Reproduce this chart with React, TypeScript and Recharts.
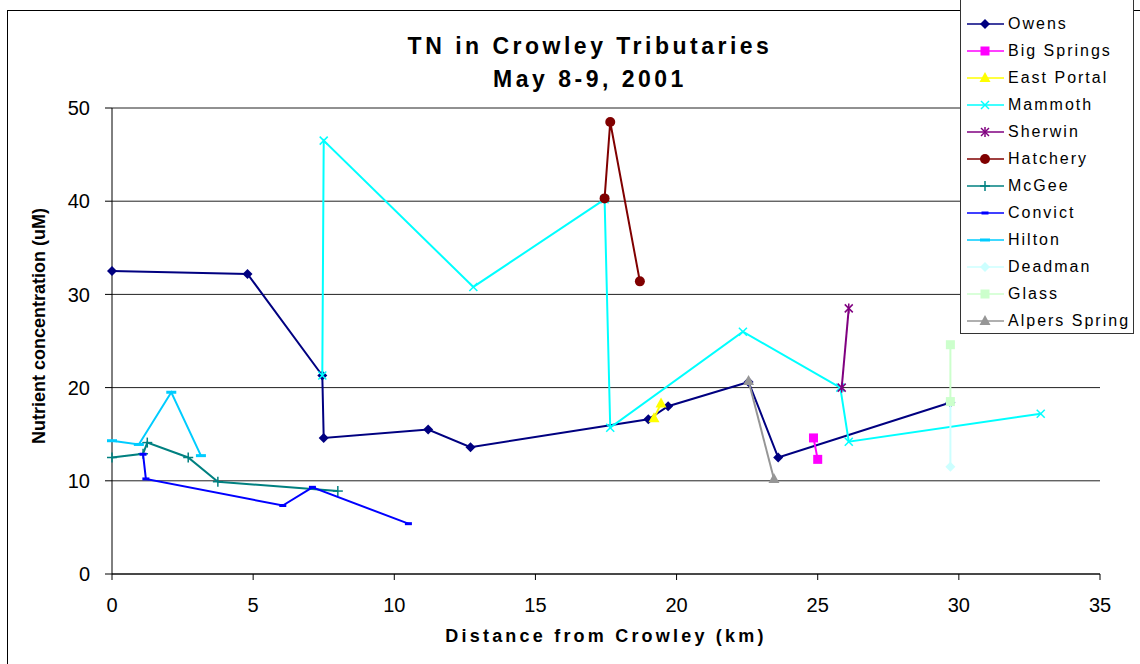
import { ScatterChart, Scatter, XAxis, YAxis, CartesianGrid } from 'recharts'

// distance (km) / TN (uM) pairs
const owens = [
    { x: 0, y: 32.5 }, { x: 4.8, y: 32.2 }, { x: 7.45, y: 21.3 }, { x: 7.5, y: 14.6 },
    { x: 11.2, y: 15.5 }, { x: 12.7, y: 13.6 }, { x: 19.0, y: 16.6 }, { x: 19.7, y: 18.0 },
    { x: 22.55, y: 20.6 }, { x: 23.6, y: 12.5 }, { x: 29.7, y: 18.4 },
]
const bigSprings = [{ x: 24.85, y: 14.6 }, { x: 25.0, y: 12.3 }]
const eastPortal = [{ x: 19.2, y: 16.7 }, { x: 19.45, y: 18.3 }]
const mammoth = [
    { x: 7.45, y: 21.3 }, { x: 7.5, y: 46.5 }, { x: 12.8, y: 30.8 }, { x: 17.45, y: 40.2 },
    { x: 17.65, y: 15.7 }, { x: 22.35, y: 26.0 }, { x: 25.8, y: 20.0 }, { x: 26.1, y: 14.2 },
    { x: 32.9, y: 17.2 },
]
const sherwin = [{ x: 25.85, y: 20.0 }, { x: 26.1, y: 28.5 }]
const hatchery = [{ x: 17.45, y: 40.3 }, { x: 17.65, y: 48.5 }, { x: 18.7, y: 31.4 }]
const mcgee = [
    { x: 0, y: 12.5 }, { x: 1.1, y: 12.9 }, { x: 1.25, y: 14.1 }, { x: 2.7, y: 12.5 },
    { x: 3.75, y: 9.9 }, { x: 8.0, y: 8.9 },
]
const convict = [
    { x: 1.1, y: 12.85 }, { x: 1.2, y: 10.2 }, { x: 6.05, y: 7.35 }, { x: 7.1, y: 9.3 }, { x: 10.5, y: 5.4 },
]
const hilton = [{ x: 0, y: 14.3 }, { x: 0.95, y: 13.9 }, { x: 2.1, y: 19.5 }, { x: 3.15, y: 12.7 }]
const deadman = [{ x: 29.7, y: 18.5 }, { x: 29.7, y: 11.5 }]
const glass = [{ x: 29.7, y: 18.5 }, { x: 29.7, y: 24.6 }]
const alpersSpring = [{ x: 22.55, y: 20.7 }, { x: 23.45, y: 10.2 }]

const X_TICKS = [0, 5, 10, 15, 20, 25, 30, 35]
const Y_TICKS = [0, 10, 20, 30, 40, 50]

const SERIES = [
    { name: 'Owens', color: '#000080', marker: 'diamond', data: owens },
    { name: 'Big Springs', color: '#FF00FF', marker: 'square', data: bigSprings },
    { name: 'East Portal', color: '#FFFF00', marker: 'triangle', data: eastPortal },
    { name: 'Mammoth', color: '#00FFFF', marker: 'x', data: mammoth },
    { name: 'Sherwin', color: '#800080', marker: 'star', data: sherwin },
    { name: 'Hatchery', color: '#800000', marker: 'circle', data: hatchery },
    { name: 'McGee', color: '#008080', marker: 'plus', data: mcgee },
    { name: 'Convict', color: '#0000FF', marker: 'dash', data: convict },
    { name: 'Hilton', color: '#00CCFF', marker: 'wideDash', data: hilton },
    { name: 'Deadman', color: '#CCFFFF', marker: 'diamond', data: deadman },
    { name: 'Glass', color: '#CCFFCC', marker: 'square', data: glass },
    { name: 'Alpers Spring', color: '#969696', marker: 'triangle', data: alpersSpring },
]

const FONT = '"Liberation Sans", Arial, sans-serif'

function Marker({ kind, color, cx, cy }: { kind: string, color: string, cx: number, cy: number }) {
    if (cx == null || cy == null) return null
    switch (kind) {
        case 'diamond':
            return <path d={`M${cx},${cy - 5} L${cx + 5},${cy} L${cx},${cy + 5} L${cx - 5},${cy} Z`} fill={color} />
        case 'square':
            return <rect x={cx - 4.5} y={cy - 4.5} width={9} height={9} fill={color} />
        case 'triangle':
            return <path d={`M${cx},${cy - 6} L${cx + 5.5},${cy + 4} L${cx - 5.5},${cy + 4} Z`} fill={color} />
        case 'x':
            return (
                <g stroke={color} strokeWidth={1.5}>
                    <line x1={cx - 4} y1={cy - 4} x2={cx + 4} y2={cy + 4} />
                    <line x1={cx - 4} y1={cy + 4} x2={cx + 4} y2={cy - 4} />
                </g>
            )
        case 'star':
            return (
                <g stroke={color} strokeWidth={1.5}>
                    <line x1={cx - 4} y1={cy - 4} x2={cx + 4} y2={cy + 4} />
                    <line x1={cx - 4} y1={cy + 4} x2={cx + 4} y2={cy - 4} />
                    <line x1={cx} y1={cy - 5} x2={cx} y2={cy + 5} />
                </g>
            )
        case 'circle':
            return <circle cx={cx} cy={cy} r={5} fill={color} />
        case 'plus':
            return (
                <g stroke={color} strokeWidth={1.5}>
                    <line x1={cx - 5} y1={cy} x2={cx + 5} y2={cy} />
                    <line x1={cx} y1={cy - 5} x2={cx} y2={cy + 5} />
                </g>
            )
        case 'dash':
            return <rect x={cx - 3.5} y={cy - 1.5} width={7} height={3} fill={color} />
        case 'wideDash':
            return <rect x={cx - 5} y={cy - 1.5} width={10} height={3} fill={color} />
        default:
            return null
    }
}

export default function App() {
    return (
        <div style={{ position: 'absolute', left: 0, top: 0, width: 1140, height: 664, background: '#fff', overflow: 'hidden', fontFamily: FONT }}>
            {/* outer chart frame, right and bottom edges run off the picture */}
            <div style={{ position: 'absolute', left: 7, top: 10, width: 1160, height: 680, border: '1px solid #000' }} />

            <div style={{ position: 'absolute', left: 0, top: 0 }}>
                <ScatterChart width={1140} height={664} margin={{ top: 108, right: 40, bottom: 40, left: 12 }}>
                    <CartesianGrid vertical={false} stroke="#222" strokeWidth={1} />
                    <XAxis
                        type="number"
                        dataKey="x"
                        domain={[0, 35]}
                        ticks={X_TICKS}
                        height={50}
                        stroke="#000"
                        tickSize={6}
                        tickMargin={18}
                        tick={{ fill: '#000', fontSize: 20, fontFamily: FONT }}
                    />
                    <YAxis
                        type="number"
                        dataKey="y"
                        domain={[0, 50]}
                        ticks={Y_TICKS}
                        width={100}
                        stroke="#000"
                        tickSize={7}
                        tickMargin={15}
                        tick={{ fill: '#000', fontSize: 20, fontFamily: FONT }}
                    />
                    {SERIES.map(s => (
                        <Scatter
                            key={s.name}
                            name={s.name}
                            data={s.data}
                            fill={s.color}
                            line={{ stroke: s.color, strokeWidth: 2 }}
                            lineType="joint"
                            isAnimationActive={false}
                            shape={(p: any) => <Marker kind={s.marker} color={s.color} cx={p.cx} cy={p.cy} />}
                        />
                    ))}
                </ScatterChart>
            </div>

            {/* title */}
            <div style={{ position: 'absolute', left: 96, width: 988, top: 30, textAlign: 'center', fontWeight: 'bold', fontSize: 23, lineHeight: '33px', letterSpacing: 3.5 }}>
                <div>TN in Crowley Tributaries</div>
                <div>May 8-9, 2001</div>
            </div>

            {/* axis titles */}
            <div style={{ position: 'absolute', left: 112, width: 988, top: 626, textAlign: 'center', fontWeight: 'bold', fontSize: 18, letterSpacing: 3.2 }}>
                Distance from Crowley (km)
            </div>
            <div style={{ position: 'absolute', left: 39 - 150, top: 326 - 11, width: 300, height: 22, lineHeight: '22px', textAlign: 'center', fontWeight: 'bold', fontSize: 18, transform: 'rotate(-90deg)' }}>
                Nutrient concentration (uM)
            </div>

            {/* legend */}
            <div style={{ position: 'absolute', left: 960, top: -1, width: 172, height: 333, border: '1px solid #333', background: '#fff' }}>
                {SERIES.map((s, i) => (
                    <div key={s.name} style={{ position: 'absolute', left: 0, top: 12 + i * 27, height: 24, display: 'flex', alignItems: 'center' }}>
                        <svg width={44} height={24} style={{ display: 'block' }}>
                            <line x1={6} y1={12} x2={43} y2={12} stroke={s.color} strokeWidth={1.5} />
                            <Marker kind={s.marker} color={s.color} cx={24} cy={12} />
                        </svg>
                        <span style={{ fontSize: 16, letterSpacing: 2, marginLeft: 3, whiteSpace: 'nowrap' }}>{s.name}</span>
                    </div>
                ))}
            </div>
        </div>
    )
}
